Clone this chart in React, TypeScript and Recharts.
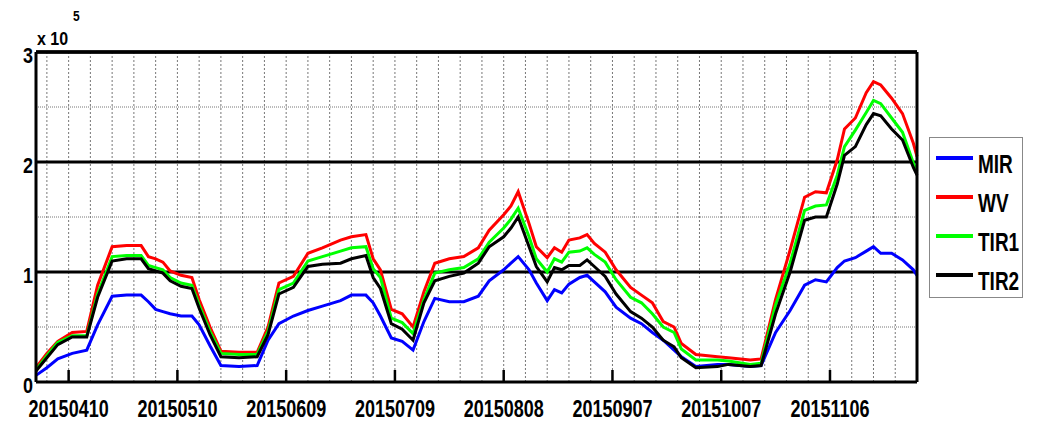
import React from 'react';
import { LineChart, Line, XAxis, YAxis, CartesianGrid, Legend, ReferenceLine } from 'recharts';

// Day index counted from 2015-04-01
const days = [0, 3, 6, 10, 14, 17, 21, 25, 29, 31, 33, 35, 37, 40, 43, 45, 48, 51, 56, 61, 64, 67, 71, 75, 79, 84, 87, 91, 93, 95, 98, 101, 104, 107, 110, 114, 118, 122, 125, 129, 131, 133, 136, 138, 141, 143, 145, 147, 150, 152, 154, 157, 160, 164, 167, 170, 173, 176, 178, 182, 188, 191, 197, 200, 204, 208, 212, 215, 218, 221, 223, 226, 229, 231, 233, 236, 239, 242, 243];

// values in units of 10^5
const mir = [0.06, 0.13, 0.21, 0.26, 0.29, 0.52, 0.78, 0.79, 0.79, 0.73, 0.66, 0.64, 0.62, 0.6, 0.6, 0.52, 0.33, 0.15, 0.14, 0.15, 0.38, 0.53, 0.6, 0.65, 0.69, 0.74, 0.79, 0.79, 0.72, 0.6, 0.4, 0.37, 0.29, 0.55, 0.76, 0.73, 0.73, 0.78, 0.92, 1.02, 1.08, 1.14, 1.02, 0.9, 0.74, 0.84, 0.81, 0.89, 0.95, 0.97, 0.91, 0.82, 0.68, 0.58, 0.53, 0.45, 0.38, 0.29, 0.23, 0.14, 0.16, 0.16, 0.14, 0.15, 0.45, 0.65, 0.88, 0.93, 0.91, 1.04, 1.1, 1.13, 1.19, 1.23, 1.17, 1.17, 1.11, 1.02, 0.97];
const wv = [0.13, 0.26, 0.37, 0.45, 0.46, 0.88, 1.23, 1.24, 1.24, 1.14, 1.12, 1.09, 1.01, 0.97, 0.95, 0.75, 0.5, 0.28, 0.27, 0.27, 0.5, 0.9, 0.96, 1.17, 1.22, 1.29, 1.32, 1.34, 1.12, 1.02, 0.66, 0.62, 0.5, 0.82, 1.08, 1.12, 1.14, 1.22, 1.38, 1.52, 1.6, 1.73, 1.44, 1.23, 1.13, 1.22, 1.18, 1.29, 1.31, 1.34, 1.26, 1.18, 1.02, 0.86, 0.79, 0.72, 0.55, 0.5, 0.35, 0.25, 0.23, 0.22, 0.2, 0.21, 0.75, 1.2, 1.68, 1.73, 1.72, 2.02, 2.3, 2.4, 2.63, 2.73, 2.7, 2.58, 2.44, 2.17, 2.05];
const tir1 = [0.11, 0.24, 0.36, 0.42, 0.42, 0.8, 1.14, 1.15, 1.15, 1.06, 1.04, 1.02, 0.95, 0.9, 0.88, 0.7, 0.46, 0.26, 0.25, 0.25, 0.46, 0.84, 0.9, 1.1, 1.14, 1.19, 1.22, 1.23, 1.03, 0.95, 0.58, 0.54, 0.44, 0.75, 0.99, 1.02, 1.04, 1.12, 1.27, 1.4, 1.48, 1.58, 1.32, 1.12, 1.0, 1.12, 1.09, 1.18, 1.19, 1.22, 1.16, 1.09, 0.93, 0.77, 0.72, 0.62, 0.5, 0.45, 0.3, 0.2, 0.2, 0.19, 0.16, 0.17, 0.7, 1.08, 1.56, 1.6, 1.61, 1.88, 2.14, 2.29, 2.45, 2.56, 2.53, 2.4, 2.27, 1.99, 1.92];
const tir2 = [0.1, 0.22, 0.34, 0.41, 0.41, 0.77, 1.1, 1.12, 1.12, 1.03, 1.01, 0.99, 0.92, 0.87, 0.85, 0.67, 0.43, 0.23, 0.22, 0.23, 0.43, 0.8, 0.86, 1.05, 1.07, 1.08, 1.12, 1.15, 0.95, 0.85, 0.53, 0.48, 0.38, 0.72, 0.92, 0.96, 0.99, 1.08, 1.23, 1.32, 1.4, 1.5, 1.23, 1.05, 0.91, 1.04, 1.02, 1.06, 1.06, 1.11, 1.05, 0.96, 0.8, 0.64, 0.58, 0.5, 0.38, 0.32, 0.22, 0.13, 0.14, 0.16, 0.14, 0.15, 0.62, 1.0, 1.47, 1.5, 1.5, 1.8, 2.06, 2.14, 2.34, 2.44, 2.42, 2.3, 2.2, 1.95, 1.88];

const seriesNames = ['MIR', 'WV', 'TIR1', 'TIR2'];
const seriesColors = ['#0000ff', '#ff0000', '#00ff00', '#000000'];

const xTickDays = [9, 39, 69, 99, 129, 159, 189, 219];
const xTickLabels = ['20150410', '20150510', '20150609', '20150709', '20150808', '20150907', '20151007', '20151106'];
const xMinorGrid = [3, 9, 15, 21, 27, 33, 39, 45, 51, 57, 63, 69, 75, 81, 87, 93, 99, 105, 111, 117, 123, 129, 135, 141, 147, 153, 159, 165, 171, 177, 183, 189, 195, 201, 207, 213, 219, 225, 231, 237, 243];
const yTicks = [0, 1, 2, 3];
const yMajorGrid = [1, 2, 3];
const yMinorGrid = [0.5, 1.5, 2.5];
const yTop = 3;

const data = days.map((d, i) => ({ day: d, MIR: mir[i], WV: wv[i], TIR1: tir1[i], TIR2: tir2[i] }));

const FONT = '"Liberation Sans", Arial, Helvetica, sans-serif';

const XTick = (props: any) => {
  const { x, y, payload } = props;
  const idx = xTickDays.indexOf(payload.value);
  return (
    <text transform={`translate(${x},${y + 47}) scale(1,1.3)`} textAnchor="middle" fontSize={18} fontWeight="bold" fontFamily={FONT} fill="#000">
      {idx >= 0 ? xTickLabels[idx] : payload.value}
    </text>
  );
};

const YTick = (props: any) => {
  const { x, y, payload } = props;
  return (
    <text transform={`translate(${x},${y + 11}) scale(1,1.2)`} textAnchor="end" fontSize={18} fontWeight="bold" fontFamily={FONT} fill="#000">
      {String(payload.value)}
    </text>
  );
};

const ExpLabel = (props: any) => {
  const vb = props.viewBox || { x: 0, y: 52, width: 36 };
  const x0 = vb.x + vb.width + 1;
  return (
    <g>
      <text transform={`translate(${x0},${vb.y - 7}) scale(1,1.2)`} fontSize={16} fontWeight="bold" fontFamily={FONT} fill="#000">x 10</text>
      <text transform={`translate(${x0 + 36},${vb.y - 31}) scale(1,1.2)`} fontSize={12} fontWeight="bold" fontFamily={FONT} fill="#000">5</text>
    </g>
  );
};

const LegendBox = () => {
  return (
    <div style={{ width: 94, height: 161, border: '1px solid #888', background: '#fff', boxSizing: 'border-box' }}>
      <svg width={92} height={159} style={{ display: 'block' }}>
        {seriesNames.map((name, i) => (
          <g key={name}>
            <line x1={6} x2={43} y1={20 + 39 * i} y2={20 + 39 * i} stroke={seriesColors[i]} strokeWidth={4} />
            <text transform={`translate(48,${35 + 39 * i}) scale(1,1.35)`} fontSize={19} fontWeight="bold" fontFamily={FONT} fill="#000">{name}</text>
          </g>
        ))}
      </svg>
    </div>
  );
};

export default function App() {
  return (
    <div style={{ position: 'absolute', left: 0, top: 0, width: 1037, height: 426, background: '#fff' }}>
      <LineChart width={1037} height={426} data={data} margin={{ top: 40, right: 119, bottom: 0, left: 0 }}>
        <CartesianGrid horizontal={false} verticalValues={xMinorGrid} stroke="#777" strokeDasharray="2 2" strokeWidth={1} />
        <CartesianGrid vertical={false} horizontalValues={yMinorGrid} stroke="#777" strokeDasharray="1 1" strokeWidth={1} />
        <CartesianGrid vertical={false} horizontalValues={yMajorGrid} stroke="#000" strokeWidth={3} />
        <XAxis
          dataKey="day"
          type="number"
          domain={[0, 243]}
          ticks={xTickDays}
          height={44}
          tickSize={-12}
          tickMargin={0}
          interval={0}
          axisLine={{ stroke: '#000', strokeWidth: 3 }}
          tickLine={{ stroke: '#000', strokeWidth: 2.5 }}
          tick={<XTick />}
        />
        <XAxis
          xAxisId="top"
          orientation="top"
          type="number"
          domain={[0, 243]}
          ticks={xTickDays}
          interval={0}
          height={12}
          tickSize={-12}
          axisLine={{ stroke: '#000', strokeWidth: 3 }}
          tickLine={{ stroke: '#000', strokeWidth: 2.5 }}
          tick={false}
        />
        <YAxis
          type="number"
          domain={[0, 3]}
          ticks={yTicks}
          width={36}
          tickSize={3}
          tickMargin={0}
          tickLine={false}
          axisLine={{ stroke: '#000', strokeWidth: 3 }}
          tick={<YTick />}
          label={{ content: <ExpLabel /> }}
        />
        <YAxis
          yAxisId="right"
          orientation="right"
          type="number"
          domain={[0, 3]}
          ticks={yTicks}
          width={1}
          tickLine={false}
          tick={false}
          axisLine={{ stroke: '#000', strokeWidth: 3 }}
        />
        <Legend
          layout="horizontal"
          verticalAlign="middle"
          align="center"
          content={<LegendBox />}
          wrapperStyle={{ position: 'absolute', left: 929, top: 137, width: 94, height: 161 }}
        />
        {seriesNames.map((name, i) => (
          <Line
            key={name}
            type="linear"
            dataKey={name}
            name={name}
            stroke={seriesColors[i]}
            strokeWidth={3}
            dot={false}
            activeDot={false}
            isAnimationActive={false}
          />
        ))}
        <ReferenceLine y={yTop} stroke="#000" strokeWidth={3} ifOverflow="visible" />
      </LineChart>
    </div>
  );
}
